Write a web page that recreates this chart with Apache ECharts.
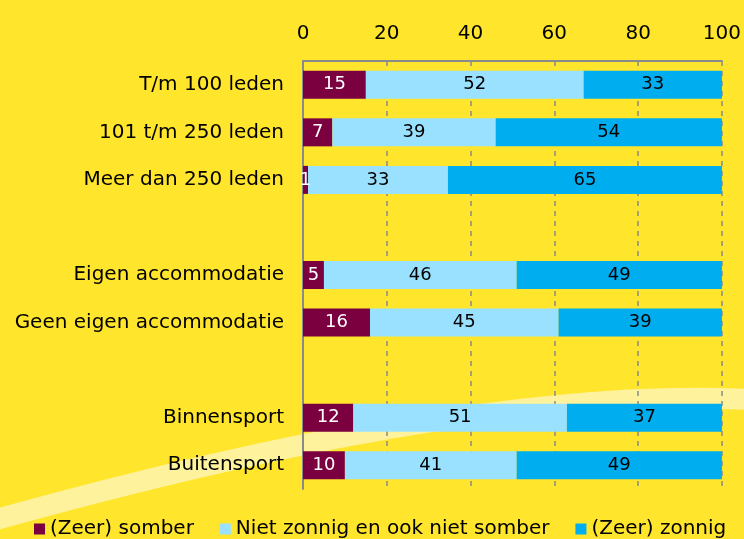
<!DOCTYPE html>
<html>
<head>
<meta charset="utf-8">
<script src="https://cdn.jsdelivr.net/npm/echarts@6/dist/echarts.min.js"></script>
<style>
  html, body { margin: 0; padding: 0; background: #FFE52B; }
  #chart { width: 744px; height: 539px; }
</style>
</head>
<body>
<div id="chart"></div>
<script>
// categories (empty strings are the gaps between groups)
var categories = ['T/m 100 leden', '101 t/m 250 leden', 'Meer dan 250 leden', '',
  'Eigen accommodatie', 'Geen eigen accommodatie', '',
  'Binnensport', 'Buitensport'];

var seriesNames = ['(Zeer) somber', 'Niet zonnig en ook niet somber', '(Zeer) zonnig'];
var somber = [15, 7, 1.2, null, 5, 16, null, 12, 10];
var neutraal = [52, 39, 33.4, null, 46, 45, null, 51, 41];
var zonnig = [33, 54, 65.4, null, 49, 39, null, 37, 49];

var xTicks = [0, 20, 40, 60, 80, 100];

var colors = ['#7A0040', '#99E1FF', '#00AEEF'];
var labelColors = ['#ffffff', '#000000', '#000000'];
var font = 'DejaVu Sans';

var chart = echarts.init(document.getElementById('chart'));

function makeSeries(name, data, i) {
  return {
    name: name,
    type: 'bar',
    stack: 'total',
    data: data,
    barWidth: 28,
    itemStyle: { color: colors[i] },
    label: {
      show: true,
      position: 'inside',
      color: labelColors[i],
      fontFamily: font,
      fontSize: 18,
      formatter: function (p) { return p.value == null ? '' : Math.round(p.value); }
    },
    emphasis: { disabled: true }
  };
}

var option = {
  backgroundColor: '#FFE52B',
  animation: false,
  textStyle: { fontFamily: font },
  // decorative light band behind the plot
  graphic: [{
    type: 'bezierCurve',
    z: -10,
    silent: true,
    shape: { x1: -20, y1: 524, x2: 760, y2: 400, cpx1: 480, cpy1: 383 },
    style: { stroke: '#FFF29C', lineWidth: 21, fill: null }
  }],
  grid: { left: 303, right: 22, top: 61, bottom: 50 },
  legend: {
    data: seriesNames,
    top: 519,
    left: 34,
    padding: 0,
    itemWidth: 11,
    itemHeight: 11,
    itemGap: 26,
    icon: 'rect',
    textStyle: { fontFamily: font, fontSize: 20, color: '#000' }
  },
  xAxis: {
    type: 'value',
    position: 'top',
    min: xTicks[0],
    max: xTicks[xTicks.length - 1],
    interval: 20,
    axisLine: { show: true, lineStyle: { color: '#8a8a8a', width: 2 } },
    axisTick: { show: false },
    axisLabel: { color: '#000', fontFamily: font, fontSize: 20, margin: 17 },
    splitLine: { show: true, lineStyle: { color: '#8a8a8a', type: [5, 5], width: 1.5 } }
  },
  yAxis: {
    type: 'category',
    data: categories,
    inverse: true,
    axisLine: { show: true, lineStyle: { color: '#8a8a8a', width: 2 } },
    axisTick: { show: false },
    axisLabel: { color: '#000', fontFamily: font, fontSize: 20, margin: 19 }
  },
  series: [
    makeSeries(seriesNames[0], somber, 0),
    makeSeries(seriesNames[1], neutraal, 1),
    makeSeries(seriesNames[2], zonnig, 2)
  ]
};

chart.setOption(option);
</script>
</body>
</html>
